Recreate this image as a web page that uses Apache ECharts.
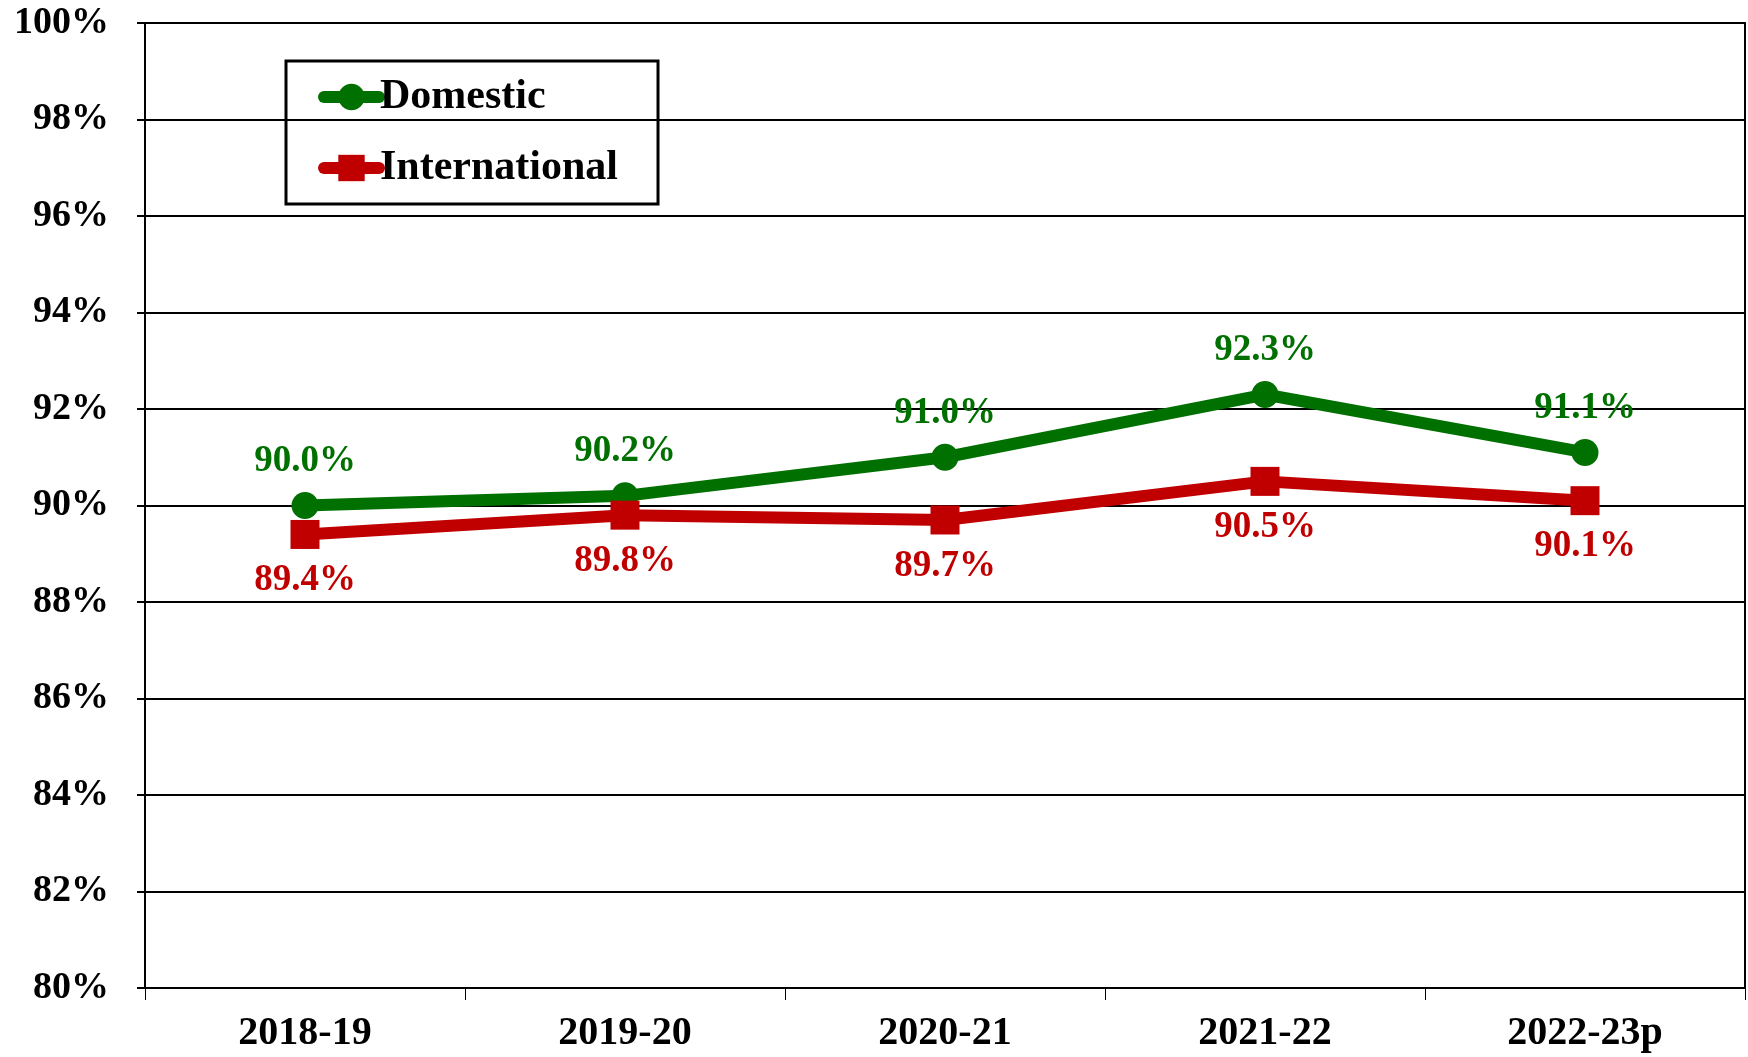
<!DOCTYPE html>
<html>
<head>
<meta charset="utf-8">
<script src="https://cdn.jsdelivr.net/npm/echarts@6/dist/echarts.min.js"></script>
<style>
html,body{margin:0;padding:0;background:#fff;}
#rateLine{width:1748px;height:1057px;}
</style>
</head>
<body>
<div id="rateLine"></div>
<script>
var years = ['2018-19', '2019-20', '2020-21', '2021-22', '2022-23p'];
var domesticRate = [90.0, 90.2, 91.0, 92.3, 91.1];
var internationalRate = [89.4, 89.8, 89.7, 90.5, 90.1];
var yMin = 80, yMax = 100, yStep = 2;

var GREEN = '#007000';
var RED = '#c00000';
var FONT = '"Liberation Serif", "Times New Roman", serif';

function pctLabel(p){
	return p.value.toFixed(1) + '%';
}
//build one line series
function makeSeries(name, values, color, symbol, size, pos, dist){
	return {
		name: name,
		type: 'line',
		data: values,
		symbol: symbol,
		symbolSize: size,
		showAllSymbol: true,
		lineStyle: {color: color, width: 12, cap: 'round', join: 'round'},
		itemStyle: {color: color},
		label: {
			show: true,
			position: pos,
			distance: dist,
			formatter: pctLabel,
			color: color,
			fontFamily: FONT,
			fontWeight: 'bold',
			fontSize: 37
		},
		emphasis: {disabled: true},
		animation: false
	};
}
function initChart(){
	var chart = echarts.init(document.getElementById('rateLine'));
	chart.setOption({
		backgroundColor: '#fff',
		grid: {left: 145, right: 3, top: 23, bottom: 69, show: true, borderColor: '#000', borderWidth: 2},
		legend: {
			orient: 'vertical',
			left: 286,
			top: 61,
			padding: [15, 40, 15, 32],
			borderColor: '#000',
			borderWidth: 3,
			itemWidth: 55,
			itemHeight: 33,
			itemGap: 29,
			lineStyle: {width: 12, cap: 'round'},
			textStyle: {color: '#000', fontFamily: FONT, fontWeight: 'bold', fontSize: 42, lineHeight: 42, padding: [0, 0, 0, -4]},
			data: ['Domestic', 'International']
		},
		xAxis: {
			type: 'category',
			data: years,
			boundaryGap: true,
			axisLine: {lineStyle: {color: '#000', width: 2}},
			axisTick: {show: true, length: 12, lineStyle: {color: '#000', width: 1}},
			axisLabel: {color: '#000', fontFamily: FONT, fontWeight: 'bold', fontSize: 40, margin: 26}
		},
		yAxis: {
			type: 'value',
			min: yMin,
			max: yMax,
			interval: yStep,
			axisLine: {show: true, lineStyle: {color: '#000', width: 2}},
			axisTick: {show: true, length: 8, lineStyle: {color: '#000', width: 2}},
			splitLine: {show: true, lineStyle: {color: '#000', width: 2}},
			axisLabel: {formatter: '{value}%', color: '#000', fontFamily: FONT, fontWeight: 'bold', fontSize: 38, margin: 36}
		},
		series: [
			makeSeries('Domestic', domesticRate, GREEN, 'circle', 27, 'top', 12),
			makeSeries('International', internationalRate, RED, 'rect', 29, 'bottom', 13)
		]
	});
}
initChart();
</script>
</body>
</html>
